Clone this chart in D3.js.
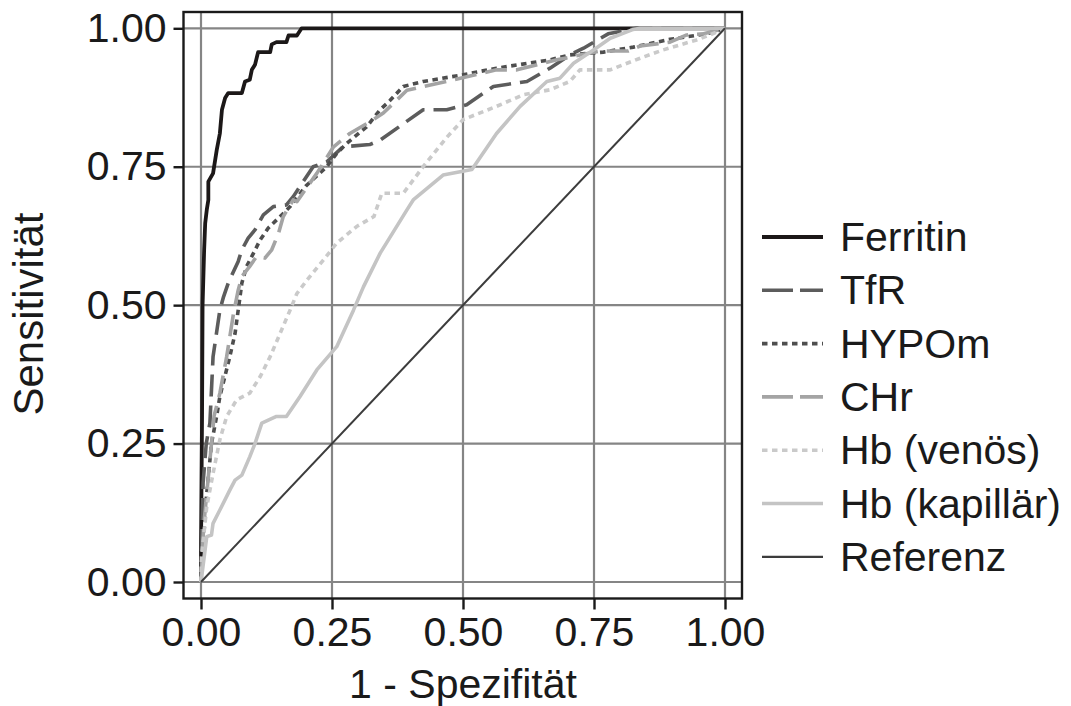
<!DOCTYPE html>
<html>
<head>
<meta charset="utf-8">
<script src="https://cdn.jsdelivr.net/npm/d3@7"></script>
<style>
  body { margin: 0; background: #fff; }
  text { font-family: "Liberation Sans", Arial, sans-serif; fill: #1a1a1a; }
</style>
</head>
<body>
<svg id="chart" width="1071" height="706"></svg>
<script>
// ROC curves, [1 - Spezifität, Sensitivität]
var ferritin = [[0,0],[0,0.06],[0.002,0.3],[0.003,0.5],[0.006,0.6],[0.008,0.648],[0.011,0.672],[0.014,0.69],[0.014,0.723],[0.023,0.738],[0.03,0.78],[0.036,0.81],[0.04,0.853],[0.046,0.874],[0.052,0.883],[0.078,0.883],[0.084,0.904],[0.093,0.907],[0.097,0.925],[0.103,0.934],[0.109,0.957],[0.132,0.957],[0.135,0.971],[0.144,0.975],[0.163,0.975],[0.167,0.987],[0.183,0.987],[0.192,1],[1,1]];
var tfr = [[0,0],[0.001,0.058],[0.004,0.179],[0.01,0.25],[0.017,0.287],[0.02,0.347],[0.023,0.407],[0.036,0.491],[0.043,0.515],[0.052,0.54],[0.071,0.579],[0.078,0.6],[0.09,0.621],[0.103,0.636],[0.119,0.663],[0.138,0.678],[0.163,0.681],[0.176,0.696],[0.214,0.75],[0.24,0.759],[0.271,0.786],[0.322,0.79],[0.342,0.798],[0.424,0.853],[0.469,0.853],[0.507,0.862],[0.558,0.895],[0.622,0.904],[0.666,0.928],[0.704,0.952],[0.73,0.964],[0.777,0.99],[0.83,1],[1,1]];
var hypom = [[0,0],[0.005,0.08],[0.01,0.15],[0.02,0.25],[0.03,0.3],[0.036,0.335],[0.055,0.407],[0.065,0.449],[0.071,0.491],[0.078,0.54],[0.087,0.57],[0.097,0.588],[0.113,0.618],[0.128,0.639],[0.151,0.66],[0.17,0.678],[0.2,0.715],[0.24,0.75],[0.259,0.774],[0.278,0.792],[0.316,0.822],[0.342,0.853],[0.361,0.87],[0.386,0.895],[0.424,0.904],[0.5,0.916],[0.564,0.928],[0.666,0.943],[0.704,0.952],[0.768,0.957],[0.825,0.966],[0.895,0.98],[0.965,0.99],[1,1]];
var chr = [[0,0],[0.005,0.1],[0.015,0.2],[0.025,0.3],[0.036,0.341],[0.049,0.407],[0.062,0.485],[0.071,0.527],[0.078,0.552],[0.093,0.57],[0.106,0.588],[0.122,0.585],[0.135,0.6],[0.148,0.63],[0.157,0.66],[0.176,0.69],[0.183,0.687],[0.221,0.738],[0.253,0.786],[0.284,0.81],[0.329,0.835],[0.348,0.847],[0.393,0.888],[0.482,0.907],[0.564,0.925],[0.603,0.925],[0.679,0.943],[0.761,0.959],[0.815,0.959],[0.838,0.968],[0.895,0.975],[0.927,0.988],[0.959,0.99],[1,1]];
var hbVenoes = [[0,0],[0.001,0.046],[0.011,0.136],[0.023,0.196],[0.036,0.257],[0.049,0.299],[0.068,0.329],[0.093,0.341],[0.113,0.371],[0.132,0.407],[0.151,0.449],[0.17,0.491],[0.183,0.521],[0.202,0.545],[0.234,0.582],[0.259,0.612],[0.297,0.642],[0.33,0.66],[0.345,0.702],[0.386,0.702],[0.424,0.75],[0.469,0.803],[0.5,0.835],[0.564,0.859],[0.615,0.88],[0.666,0.889],[0.704,0.904],[0.723,0.925],[0.781,0.925],[0.838,0.946],[0.882,0.961],[0.946,0.979],[0.971,0.988],[1,1]];
var hbKapillaer = [[0,0],[0.011,0.082],[0.02,0.085],[0.023,0.106],[0.036,0.13],[0.055,0.166],[0.065,0.184],[0.078,0.193],[0.093,0.226],[0.103,0.25],[0.116,0.287],[0.144,0.299],[0.163,0.299],[0.189,0.335],[0.221,0.383],[0.259,0.425],[0.291,0.491],[0.31,0.533],[0.342,0.594],[0.393,0.672],[0.405,0.69],[0.462,0.735],[0.517,0.745],[0.564,0.81],[0.609,0.859],[0.66,0.904],[0.685,0.91],[0.711,0.937],[0.749,0.961],[0.781,0.982],[0.825,0.998],[0.838,1],[1,1]];
var referenz = [[0,0],[1,1]];

var seriesNames = ["Ferritin", "TfR", "HYPOm", "CHr", "Hb (venös)", "Hb (kapillär)", "Referenz"];
var seriesData = [ferritin, tfr, hypom, chr, hbVenoes, hbKapillaer, referenz];
var tickValues = [0, 0.25, 0.5, 0.75, 1];

// look of each line, same order as seriesNames
var styles = [
  { color: "#1c1818", width: 3.8, dash: null },
  { color: "#5c5c5c", width: 3.6, dash: "22,9" },
  { color: "#4e4e4e", width: 3.6, dash: "5.5,4.5" },
  { color: "#a4a4a4", width: 3.6, dash: "22,9" },
  { color: "#cacaca", width: 3.6, dash: "5.5,4.5" },
  { color: "#c4c4c4", width: 3.6, dash: null },
  { color: "#3c3c3c", width: 2, dash: null }
];

var svg = d3.select("#chart");
var x = d3.scaleLinear().domain([0, 1]).range([201, 725]);
var y = d3.scaleLinear().domain([0, 1]).range([582, 28.3]);
var box = { left: 183.5, right: 742, top: 12, bottom: 598.5 };

// grid
var grid = svg.append("g");
grid.selectAll("line.gx")
  .data(tickValues)
  .enter().append("line")
    .attr("x1", function(d) { return x(d); })
    .attr("x2", function(d) { return x(d); })
    .attr("y1", box.top).attr("y2", box.bottom)
    .attr("stroke", "#858585").attr("stroke-width", 2.2);
grid.selectAll("line.gy")
  .data(tickValues)
  .enter().append("line")
    .attr("y1", function(d) { return y(d); })
    .attr("y2", function(d) { return y(d); })
    .attr("x1", box.left).attr("x2", box.right)
    .attr("stroke", "#858585").attr("stroke-width", 2.2);

// curves
var line = d3.line()
  .x(function(d) { return x(d[0]); })
  .y(function(d) { return y(d[1]); });

svg.append("g")
  .selectAll("path")
  .data(seriesData)
  .enter().append("path")
    .attr("d", line)
    .attr("fill", "none")
    .attr("stroke", function(d, i) { return styles[i].color; })
    .attr("stroke-width", function(d, i) { return styles[i].width; })
    .attr("stroke-dasharray", function(d, i) { return styles[i].dash; })
    .attr("stroke-linejoin", "round");

// panel border
svg.append("rect")
  .attr("x", box.left).attr("y", box.top)
  .attr("width", box.right - box.left)
  .attr("height", box.bottom - box.top)
  .attr("fill", "none")
  .attr("stroke", "#1a1a1a")
  .attr("stroke-width", 2.4);

// axes
var xAxis = d3.axisBottom(x).tickValues(tickValues).tickSize(11).tickPadding(7)
  .tickFormat(d3.format(".2f"));
var yAxis = d3.axisLeft(y).tickValues(tickValues).tickSize(10).tickPadding(7)
  .tickFormat(d3.format(".2f"));

var gx = svg.append("g").attr("transform", "translate(0," + box.bottom + ")").call(xAxis);
var gy = svg.append("g").attr("transform", "translate(" + box.left + ",0)").call(yAxis);
[gx, gy].forEach(function(g) {
  g.select(".domain").remove();
  g.selectAll(".tick line").attr("stroke", "#1a1a1a").attr("stroke-width", 2.4);
  g.selectAll(".tick text")
    .attr("fill", "#1a1a1a")
    .style("font-size", "41px")
    .style("font-family", "'Liberation Sans', Arial, sans-serif");
});

// axis titles
svg.append("text")
  .attr("x", 463).attr("y", 698)
  .attr("text-anchor", "middle")
  .style("font-size", "41px")
  .text("1 - Spezifität");
svg.append("text")
  .attr("transform", "translate(43,314) rotate(-90)")
  .attr("text-anchor", "middle")
  .style("font-size", "42px")
  .text("Sensitivität");

// legend
var legend = svg.append("g")
  .selectAll("g")
  .data(seriesNames)
  .enter().append("g")
    .attr("transform", function(d, i) { return "translate(762," + (237 + i * 53.3) + ")"; });
legend.append("line")
  .attr("x1", 0).attr("x2", 61)
  .attr("stroke", function(d, i) { return styles[i].color; })
  .attr("stroke-width", function(d, i) { return i === 6 ? 2.2 : styles[i].width; })
  .attr("stroke-dasharray", function(d, i) { return i === 1 || i === 3 ? "31,7" : styles[i].dash; });
legend.append("text")
  .attr("x", 78).attr("y", 14)
  .style("font-size", "41px")
  .text(function(d) { return d; });
</script>
</body>
</html>
